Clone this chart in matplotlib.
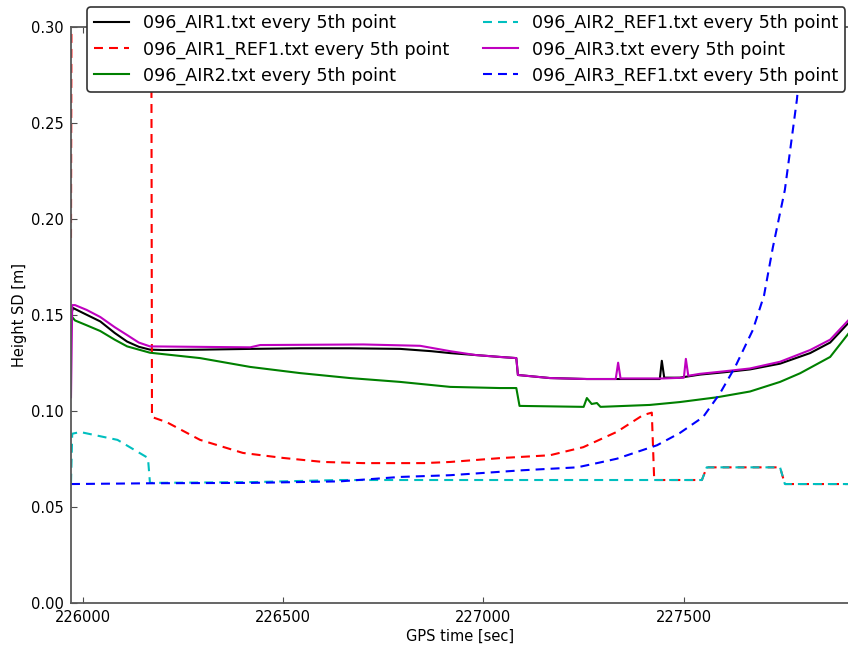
import matplotlib
matplotlib.use("Agg")
import matplotlib.pyplot as plt

# GPS time [sec] / height standard deviation [m] for every track
air1_t = [225971, 225976, 226000, 226044, 226080, 226111, 226140, 226168, 226200,
          226300, 226420, 226542, 226667, 226792, 226870, 226917, 226980, 227041,
          227082, 227086, 227166, 227258, 227338, 227415, 227440, 227445, 227451,
          227490, 227540, 227600, 227665, 227740, 227815, 227865, 227910]
air1_sd = [0.150, 0.1535, 0.151, 0.1465, 0.1405, 0.136, 0.1333, 0.1318, 0.1316,
           0.1318, 0.1322, 0.1325, 0.1325, 0.1322, 0.131, 0.130, 0.129, 0.128,
           0.1274, 0.1186, 0.117, 0.1165, 0.1165, 0.1165, 0.1165, 0.126, 0.1172,
           0.1172, 0.1188, 0.120, 0.1215, 0.1245, 0.130, 0.1355, 0.1456]

air1_ref1_t = [225971, 225974, 226170, 226173, 226210, 226293, 226400, 226500,
               226600, 226700, 226850, 226917, 227041, 227166, 227249, 227333,
               227398, 227420, 227426, 227545, 227557, 227740, 227752, 227910]
air1_ref1_sd = [0.19, 0.5, 0.5, 0.0967, 0.094, 0.0848, 0.078, 0.0754, 0.0733,
                0.0727, 0.0727, 0.0733, 0.0753, 0.0768, 0.081, 0.089, 0.0977,
                0.099, 0.0639, 0.0639, 0.0705, 0.0705, 0.0618, 0.0618]

air2_t = [225973, 225981, 226010, 226044, 226080, 226111, 226168, 226293, 226418,
          226542, 226667, 226792, 226917, 227041, 227082, 227090, 227250, 227258,
          227270, 227283, 227292, 227415, 227490, 227583, 227665, 227740, 227790,
          227865, 227910]
air2_sd = [0.149, 0.147, 0.1445, 0.1415, 0.137, 0.1335, 0.1302, 0.1274, 0.1228,
           0.1196, 0.117, 0.115, 0.1124, 0.1118, 0.1118, 0.1025, 0.102, 0.1066,
           0.1035, 0.104, 0.102, 0.103, 0.1045, 0.107, 0.1100, 0.115, 0.1195,
           0.128, 0.140]

air2_ref1_t = [225971, 225974, 225994, 226087, 226163, 226168, 226420, 226642,
               227545, 227557, 227740, 227752, 227910]
air2_ref1_sd = [0.0625, 0.088, 0.0889, 0.0848, 0.0754, 0.0624, 0.0628, 0.0639,
                0.0639, 0.0705, 0.0705, 0.0618, 0.0618]

air3_t = [225971, 225974, 225981, 226010, 226044, 226080, 226111, 226140, 226168,
          226418, 226443, 226700, 226842, 226917, 226980, 227041, 227082, 227086,
          227166, 227258, 227330, 227336, 227342, 227450, 227500, 227505, 227511,
          227540, 227600, 227665, 227740, 227815, 227865, 227910]
air3_sd = [0.107, 0.155, 0.155, 0.1525, 0.1488, 0.1435, 0.1394, 0.1355, 0.1335,
           0.1330, 0.1342, 0.1345, 0.1338, 0.131, 0.129, 0.128, 0.1274, 0.1186,
           0.117, 0.1165, 0.1165, 0.125, 0.1168, 0.1168, 0.1172, 0.127, 0.1182,
           0.1192, 0.1205, 0.122, 0.1255, 0.1316, 0.137, 0.147]

air3_ref1_t = [225971, 226168, 226420, 226642, 226792, 226917, 227099, 227234,
               227290, 227333, 227433, 227490, 227548, 227590, 227628, 227672,
               227700, 227722, 227752, 227782, 227804, 227830]
air3_ref1_sd = [0.0618, 0.0622, 0.0624, 0.0632, 0.0655, 0.0664, 0.069, 0.0705,
                0.073, 0.075, 0.082, 0.0884, 0.0967, 0.109, 0.1228, 0.142, 0.160,
                0.185, 0.215, 0.262, 0.31, 0.4]

labels = ['096_AIR1.txt every 5th point', '096_AIR1_REF1.txt every 5th point',
          '096_AIR2.txt every 5th point', '096_AIR2_REF1.txt every 5th point',
          '096_AIR3.txt every 5th point', '096_AIR3_REF1.txt every 5th point']

fig = plt.figure(figsize=(8.48, 6.47), dpi=100)
ax = fig.add_axes([71 / 848, 44.3 / 647, 778 / 848, 576 / 647])

dash = (4.3, 2.9)
ax.plot(air1_t, air1_sd, color='k', lw=1.5, label=labels[0])
ax.plot(air1_ref1_t, air1_ref1_sd, color='r', lw=1.5, ls='--', dashes=dash,
        label=labels[1])
ax.plot(air2_t, air2_sd, color='g', lw=1.5, label=labels[2])
ax.plot(air2_ref1_t, air2_ref1_sd, color='c', lw=1.5, ls='--', dashes=dash,
        label=labels[3])
ax.plot(air3_t, air3_sd, color='m', lw=1.5, label=labels[4])
ax.plot(air3_ref1_t, air3_ref1_sd, color='b', lw=1.5, ls='--', dashes=dash,
        label=labels[5])

ax.set_xlim(225971, 227912)
ax.set_ylim(0.0, 0.30)
ax.set_xticks([226000, 226500, 227000, 227500])
ax.set_yticks([0.0, 0.05, 0.10, 0.15, 0.20, 0.25, 0.30])
ax.set_yticklabels(['0.00', '0.05', '0.10', '0.15', '0.20', '0.25', '0.30'])
ax.tick_params(direction='in', top=True, right=False, labelsize=10.5, length=4,
               color='0.3', pad=5)
for s in ax.spines.values():
    s.set_color('0.35')
    s.set_linewidth(1.3)

ax.set_xlabel('GPS time [sec]', fontsize=10.5, labelpad=3)
ax.set_ylabel('Height SD [m]', fontsize=10.5, labelpad=3)

leg = ax.legend(ncol=2, loc='upper center', bbox_to_anchor=(0.508, 1.049),
                fontsize=12.6, handlelength=2.0, columnspacing=1.9,
                labelspacing=0.45, borderpad=0.4, fancybox=True,
                framealpha=1.0, edgecolor='0.2')
leg.get_frame().set_linewidth(1.2)

fig.savefig('out.png', dpi=100)
